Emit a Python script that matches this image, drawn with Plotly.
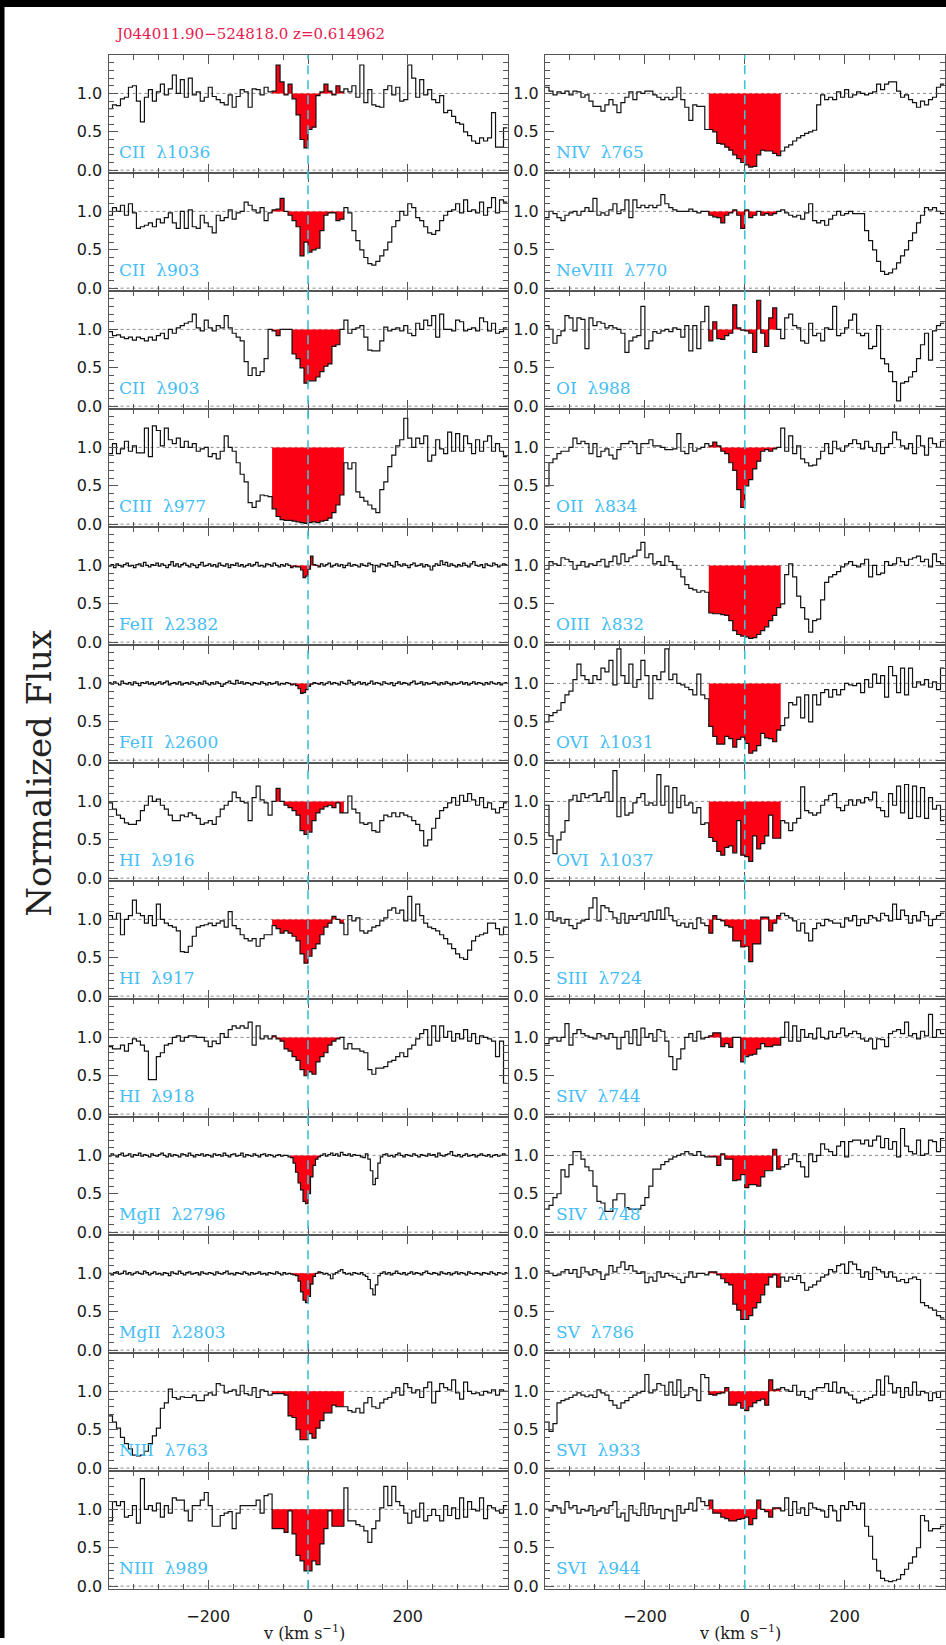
import numpy as np
import plotly.graph_objects as go

# ---------------- data (normalized flux) ----------------
# COS panels: 8 km/s bins starting at -400 km/s (100 bins)
CII_1036 = [0.80,0.85,0.84,0.93,0.95,1.08,1.10,0.90,0.63,0.95,
            1.05,0.90,1.02,1.12,0.98,1.06,1.24,1.00,1.18,0.95,
            1.20,0.98,1.02,0.90,0.95,1.08,0.96,0.92,0.88,0.85,
            0.98,0.82,0.96,1.05,1.02,0.82,1.06,1.05,0.98,1.08,
            1.02,1.03,1.37,1.15,0.98,1.12,0.93,0.72,0.40,0.29,
            0.53,0.56,0.97,1.02,1.12,1.03,0.98,1.10,1.02,1.06,
            1.02,1.10,0.95,1.37,0.88,1.05,0.85,0.83,0.82,1.05,
            1.10,0.98,1.08,0.90,0.92,1.37,1.20,0.95,1.18,0.98,
            1.05,0.92,0.88,0.97,0.75,0.78,0.70,0.62,0.60,0.50,
            0.45,0.38,0.35,0.42,0.38,0.42,0.75,0.30,0.30,0.55]
CII_903A = [0.95,1.05,1.00,1.08,0.95,1.10,0.98,0.78,0.80,0.82,
            0.85,0.80,0.90,0.85,0.92,0.98,0.85,0.78,1.00,0.78,
            1.02,0.80,0.78,0.95,0.85,0.80,0.72,0.95,0.88,0.92,
            1.02,0.90,0.98,1.00,1.12,1.08,1.02,0.98,1.05,0.88,
            0.98,1.02,1.03,1.17,1.00,0.95,0.88,0.80,0.42,0.60,
            0.47,0.50,0.52,0.75,0.95,0.98,0.98,0.88,0.90,1.05,
            0.98,0.75,0.62,0.50,0.40,0.32,0.30,0.35,0.42,0.50,
            0.60,0.80,0.88,1.00,0.95,1.10,1.05,0.92,0.88,0.80,
            0.72,0.70,0.75,0.88,0.95,1.00,1.02,1.10,0.98,1.15,
            1.00,1.02,0.98,1.12,0.95,1.05,1.18,0.98,1.15,1.12]
CII_903B = [0.97,0.92,0.93,0.90,0.88,0.90,0.86,0.90,0.88,0.85,
            0.90,0.86,0.92,0.95,0.88,1.00,0.95,1.02,1.05,1.08,
            1.10,1.20,1.02,0.98,1.12,1.02,0.98,1.05,1.02,1.18,
            1.02,0.95,0.90,0.85,0.58,0.40,0.50,0.40,0.45,0.62,
            1.00,0.98,0.92,1.00,1.00,1.00,0.68,0.62,0.50,0.30,
            0.33,0.33,0.38,0.45,0.52,0.55,0.78,0.80,1.00,1.12,
            0.95,1.00,1.02,1.05,0.90,0.73,0.72,0.72,0.85,1.03,
            0.98,1.00,1.02,0.98,1.05,0.95,0.92,1.08,1.00,1.12,
            1.05,1.18,0.90,1.20,1.00,1.00,0.98,1.12,1.10,0.98,
            1.00,1.02,0.98,1.15,1.10,0.98,1.08,0.95,0.97,1.02]
CIII_977 = [0.92,1.05,0.92,0.98,1.08,0.95,1.02,0.93,0.93,1.25,
            0.88,1.28,1.22,1.02,1.25,1.10,1.05,1.12,1.00,1.08,
            1.00,1.05,0.95,0.98,1.00,0.88,0.92,0.85,0.95,1.15,
            1.00,0.95,0.80,0.65,0.55,0.28,0.22,0.30,0.38,0.37,
            0.36,0.20,0.10,0.06,0.05,0.05,0.04,0.03,0.02,0.01,
            0.02,0.03,0.02,0.04,0.05,0.08,0.15,0.25,0.38,0.80,
            0.72,0.80,0.42,0.35,0.30,0.25,0.20,0.15,0.45,0.55,
            0.75,0.90,1.02,1.10,1.38,1.12,1.00,1.12,1.05,1.15,
            0.82,0.90,1.10,0.98,0.92,1.20,0.95,1.18,0.95,1.15,
            1.05,0.92,1.10,0.95,1.08,1.15,0.95,1.05,0.95,0.88]
HI_916 = [0.98,0.90,0.82,0.78,0.72,0.70,0.70,0.75,0.88,0.95,
          1.07,1.00,1.03,0.95,0.90,0.82,0.75,0.75,0.82,0.80,
          0.85,0.82,0.78,0.70,0.72,0.75,0.70,0.80,0.90,0.95,
          1.00,1.12,1.05,1.00,0.98,0.75,1.05,1.20,1.02,0.98,
          0.82,1.00,1.17,1.00,0.95,0.92,0.88,0.82,0.62,0.57,
          0.60,0.75,0.85,0.90,0.93,0.95,0.92,0.98,0.85,0.85,
          1.07,0.90,0.85,0.72,0.70,0.72,0.62,0.60,0.75,0.82,
          0.80,0.85,0.80,0.85,0.82,0.80,0.75,0.70,0.62,0.42,
          0.50,0.65,0.78,0.88,0.92,0.98,1.05,0.95,1.08,1.00,
          1.10,1.02,0.95,1.05,0.92,0.98,0.90,0.85,0.92,0.98]
HI_917 = [1.05,1.00,1.08,0.80,1.00,1.05,1.25,1.08,1.05,0.95,
          1.05,0.92,1.20,1.00,0.95,0.92,0.90,0.85,0.58,0.57,
          0.65,0.78,0.90,0.92,0.93,0.95,0.92,0.95,0.98,0.90,
          1.10,0.92,0.88,0.80,0.75,0.72,0.75,0.65,0.75,0.80,
          0.80,0.92,0.88,0.82,0.85,0.82,0.78,0.72,0.55,0.43,
          0.52,0.62,0.68,0.80,0.90,0.95,1.04,1.00,0.95,0.80,
          1.05,0.98,1.02,0.85,0.82,0.85,0.90,0.92,0.98,1.02,
          1.12,1.15,1.08,1.12,0.98,1.30,0.98,1.20,1.05,0.95,
          0.90,0.88,0.85,0.80,0.75,0.68,0.62,0.55,0.50,0.48,
          0.60,0.72,0.78,0.80,0.82,0.95,0.95,0.88,0.80,0.90]
HI_918 = [0.88,0.85,0.85,0.90,0.82,0.92,0.98,0.95,0.90,0.82,
          0.45,0.45,0.75,0.80,0.90,0.92,1.00,1.02,0.95,1.00,
          1.02,1.02,1.00,1.00,0.95,0.88,0.95,0.92,1.05,1.00,
          1.10,1.15,1.12,1.15,1.12,1.20,0.90,1.15,0.98,1.02,
          0.98,1.02,0.98,0.95,0.85,0.82,0.75,0.70,0.58,0.50,
          0.55,0.52,0.68,0.75,0.80,0.90,0.95,0.98,1.00,0.85,
          0.92,0.85,0.85,0.82,0.80,0.58,0.52,0.60,0.60,0.62,
          0.68,0.70,0.75,0.80,0.75,0.85,0.90,0.98,1.05,1.10,
          0.90,1.15,0.95,1.15,1.00,1.08,0.95,1.05,0.98,1.10,
          0.95,1.05,0.92,1.02,1.00,0.98,0.95,0.75,0.95,0.40]
NIII_763 = [0.68,0.60,0.52,0.40,0.32,0.25,0.17,0.16,0.17,0.22,
            0.32,0.42,0.52,0.78,0.85,1.03,0.92,0.90,0.93,0.92,
            0.92,0.95,0.88,0.88,0.95,0.98,0.95,1.10,1.08,0.98,
            1.00,1.02,0.95,1.08,0.97,0.95,1.05,0.92,1.02,1.00,
            0.95,0.97,0.97,0.97,0.95,0.68,0.66,0.50,0.37,0.37,
            0.45,0.39,0.52,0.62,0.72,0.72,0.82,0.80,0.80,0.80,
            0.75,0.73,0.78,0.72,0.85,0.92,0.80,0.78,0.85,0.90,
            0.92,0.98,1.05,0.95,1.10,1.05,0.98,1.02,0.92,1.05,
            1.12,0.85,1.00,1.10,1.05,1.02,1.15,0.98,0.90,1.12,
            1.00,0.97,0.98,0.95,1.00,0.98,1.02,0.95,1.02,1.00]
NIII_989 = [0.85,1.10,1.05,1.10,0.90,0.92,1.05,0.82,1.40,1.00,
            1.05,0.98,1.08,0.90,1.05,0.95,1.15,1.12,1.12,0.98,
            0.85,1.05,1.05,1.12,1.22,1.05,0.78,0.78,0.92,0.95,
            0.97,0.75,0.95,1.05,1.05,1.05,1.05,1.12,0.95,1.18,
            1.20,0.75,0.75,0.75,0.70,0.98,0.68,0.40,0.33,0.20,
            0.20,0.33,0.28,0.55,0.75,0.98,0.78,0.78,0.78,1.28,
            0.85,0.85,0.80,0.78,0.72,0.57,0.75,0.85,1.02,1.30,
            1.05,1.30,1.10,1.05,0.95,0.82,0.98,0.90,1.08,0.85,
            0.92,1.00,0.92,0.85,1.05,0.92,1.02,0.88,1.15,0.90,
            1.10,1.00,0.98,1.15,0.88,1.05,1.02,0.98,0.95,1.05]
NIV_765 = [1.08,1.03,0.98,1.02,1.00,1.03,0.98,1.03,1.02,0.95,
           0.98,0.90,0.83,0.83,0.77,0.85,0.92,0.85,0.75,0.88,
           0.95,1.02,0.92,1.02,1.00,1.03,1.03,0.98,0.95,0.92,
           0.95,0.92,0.95,1.08,0.92,0.82,0.65,0.85,0.83,0.83,
           0.53,0.53,0.50,0.35,0.34,0.30,0.26,0.20,0.15,0.10,
           0.07,0.04,0.05,0.20,0.26,0.25,0.25,0.22,0.19,0.25,
           0.30,0.33,0.38,0.42,0.45,0.48,0.50,0.52,0.85,0.98,
           0.92,0.95,0.92,1.02,0.95,1.05,0.95,0.98,1.02,1.00,
           0.98,1.00,1.02,1.12,1.05,1.12,1.15,1.15,1.03,0.95,
           0.98,0.92,0.88,0.82,0.90,0.85,0.92,0.95,1.08,1.12]
NEVIII_770 = [0.92,1.00,0.97,0.92,0.88,0.95,0.98,1.00,0.95,1.00,
              1.05,1.00,1.17,0.95,0.98,0.95,1.02,1.10,0.97,1.02,
              1.15,0.92,1.15,1.05,1.08,1.05,1.08,1.05,1.08,1.22,
              1.10,1.05,1.02,1.00,1.00,1.00,1.03,1.00,0.98,1.00,
              1.00,0.95,0.93,0.92,0.85,0.95,0.98,1.02,0.95,0.78,
              1.02,0.92,0.95,1.00,0.95,0.97,0.95,0.97,1.00,1.02,
              0.98,0.95,0.93,0.95,0.90,0.98,1.10,0.88,0.85,0.88,
              0.82,0.90,0.95,1.00,0.95,0.97,1.00,0.97,0.97,0.97,
              0.75,0.62,0.50,0.35,0.22,0.18,0.20,0.25,0.33,0.42,
              0.50,0.62,0.72,0.85,0.95,1.05,1.02,1.05,1.00,0.97]
OI_988 = [1.05,1.00,0.82,0.92,0.98,1.18,1.15,0.98,1.15,1.13,
          0.75,1.15,1.05,1.10,1.08,1.02,1.05,1.02,1.00,0.95,
          0.70,0.85,0.90,0.92,1.30,0.75,0.85,0.97,0.95,0.98,
          1.00,0.97,1.02,1.00,0.90,1.05,0.72,1.05,0.75,1.10,
          1.30,0.85,1.10,0.88,0.87,0.92,0.95,1.32,1.02,0.99,
          0.98,0.95,0.70,1.38,0.95,0.78,1.15,1.28,1.00,0.88,
          1.15,1.20,1.05,1.02,0.85,0.82,1.08,0.92,0.95,0.85,
          1.02,1.00,1.30,0.92,0.95,1.02,1.12,1.20,0.95,0.92,
          0.95,0.75,0.78,1.05,0.62,0.55,0.45,0.32,0.07,0.30,
          0.32,0.38,0.45,0.62,0.80,0.95,0.60,0.98,1.05,1.08]
OII_834 = [0.50,0.80,0.85,0.92,0.95,0.95,1.00,1.12,1.05,1.08,
           1.05,0.92,1.05,0.88,0.95,0.98,0.90,0.85,0.97,1.05,
           1.05,1.08,1.05,0.92,1.05,1.05,1.10,1.02,1.02,1.00,
           0.97,0.97,0.98,1.18,0.95,0.92,1.05,0.95,0.98,1.00,
           1.05,1.02,1.07,1.02,0.95,0.92,0.80,0.70,0.45,0.22,
           0.50,0.58,0.72,0.82,0.95,0.97,0.95,0.98,1.00,1.25,
           0.95,1.15,0.92,1.02,0.85,0.80,0.76,0.77,0.85,0.95,
           1.05,0.92,1.08,0.98,0.95,1.02,1.05,1.10,1.05,0.98,
           1.08,1.00,0.95,1.05,0.92,1.00,1.05,1.20,1.10,1.02,
           0.98,1.05,0.92,1.15,1.02,0.90,1.12,1.05,1.00,1.08]
OIII_832 = [0.95,1.05,1.02,1.00,1.10,1.08,1.05,0.95,1.00,1.05,
            0.98,1.02,1.00,1.05,1.08,0.98,1.05,1.12,1.02,1.15,
            1.05,1.10,1.12,1.20,1.30,1.10,1.15,1.02,1.05,1.00,
            1.12,1.05,1.00,0.95,0.85,0.75,0.70,0.68,0.65,0.67,
            0.65,0.38,0.37,0.37,0.36,0.35,0.28,0.15,0.10,0.08,
            0.07,0.05,0.06,0.10,0.15,0.20,0.28,0.35,0.45,0.50,
            0.88,1.02,0.85,0.60,0.45,0.30,0.13,0.28,0.30,0.55,
            0.78,0.85,0.88,0.92,0.98,1.02,1.05,1.00,0.98,1.02,
            1.08,0.85,1.00,0.88,0.90,1.05,1.00,1.02,1.10,1.05,
            1.00,1.08,1.10,1.12,1.05,1.08,0.98,1.15,1.05,1.02]
OVI_1031 = [0.50,0.58,0.62,0.65,0.75,0.85,0.90,1.05,1.25,1.10,
            1.05,1.00,1.10,1.05,1.20,1.15,1.30,0.98,1.45,1.10,
            1.00,1.25,0.95,1.05,1.30,1.10,0.80,1.10,1.05,1.15,
            1.45,1.05,1.12,1.00,0.98,0.95,0.92,0.85,1.12,0.85,
            0.80,0.44,0.31,0.21,0.21,0.31,0.28,0.17,0.27,0.30,
            0.22,0.09,0.12,0.19,0.35,0.29,0.28,0.24,0.39,0.45,
            0.55,0.75,0.72,0.82,0.55,0.85,0.50,0.85,0.72,0.88,
            0.92,0.82,0.92,0.85,0.92,1.00,0.98,0.97,1.00,0.88,
            1.05,0.95,1.12,1.00,1.10,0.82,1.22,1.10,0.88,1.20,
            0.85,1.20,0.95,1.02,0.98,1.05,0.95,1.02,0.92,1.20]
OVI_1037 = [0.95,0.55,0.32,0.50,0.60,0.75,1.02,1.08,1.00,1.10,
            1.05,1.08,1.10,1.00,1.05,1.12,1.00,1.40,0.80,1.05,
            0.82,0.85,0.98,1.05,1.10,0.95,0.98,0.95,1.35,0.95,
            1.20,0.85,1.18,0.92,1.08,0.95,0.98,0.85,0.92,0.70,
            0.72,0.53,0.48,0.35,0.30,0.40,0.42,0.33,0.75,0.30,
            0.28,0.22,0.55,0.38,0.45,0.55,0.82,0.52,0.52,0.75,
            0.72,0.62,0.72,0.78,1.19,0.88,0.85,0.82,0.85,0.95,
            1.02,1.08,1.10,0.92,0.88,0.95,1.02,0.95,1.02,0.98,
            1.05,1.02,1.12,0.92,0.88,0.80,1.10,0.95,1.20,0.85,
            1.22,0.78,1.20,0.80,1.18,0.78,1.05,0.90,0.95,0.75]
SIII_724 = [1.00,1.10,0.98,1.02,0.95,1.00,0.92,0.88,0.95,0.98,
            1.00,1.15,1.28,0.98,1.18,1.15,1.10,1.02,0.95,1.08,
            0.95,1.05,1.00,1.05,1.08,0.98,1.10,1.00,1.12,1.00,
            1.15,1.05,0.98,0.92,0.95,0.90,0.95,0.88,1.02,0.95,
            0.92,0.82,1.05,1.00,0.98,0.92,0.90,0.72,0.72,0.64,
            0.65,0.45,0.68,0.68,1.03,1.03,0.85,0.95,1.05,1.08,
            1.05,1.02,0.98,0.85,0.95,0.82,0.72,0.88,0.95,0.92,
            1.00,0.98,0.95,0.95,0.90,1.02,0.98,1.05,0.92,1.00,
            0.95,1.05,1.02,0.98,1.08,1.05,0.98,1.20,1.00,1.12,
            1.05,0.95,1.05,0.98,1.10,1.05,0.92,1.00,1.05,1.08]
SIV_744 = [0.92,0.98,1.00,0.95,1.00,1.18,0.90,1.05,1.10,1.05,
           1.02,1.00,0.98,1.05,1.02,0.98,1.05,1.00,0.85,1.00,
           1.08,0.92,1.10,0.90,1.12,1.00,1.05,0.95,1.10,1.08,
           0.95,0.75,0.58,0.72,0.85,1.00,1.05,0.95,1.08,0.98,
           1.00,1.02,1.06,1.06,0.88,0.92,0.87,1.00,1.00,0.68,
           0.75,0.77,0.78,0.85,0.92,0.88,0.88,0.90,0.90,1.00,
           1.20,0.95,1.15,0.95,1.10,1.00,1.05,0.98,1.12,1.00,
           0.98,1.08,1.00,1.05,1.12,1.02,1.05,1.08,1.05,0.98,
           0.95,0.98,0.85,0.98,0.97,0.88,1.05,1.08,1.10,1.05,
           1.20,1.02,1.05,0.98,1.08,1.02,1.30,1.00,1.10,1.05]
SIV_748 = [0.30,0.35,0.45,0.50,0.81,0.72,0.88,1.05,1.05,0.95,
           0.85,0.80,0.60,0.40,0.38,0.27,0.27,0.42,0.50,0.50,
           0.32,0.30,0.30,0.30,0.35,0.45,0.60,0.82,0.82,0.88,
           0.92,0.95,0.98,1.00,1.02,1.05,1.02,1.00,1.05,1.00,
           0.98,0.98,0.98,0.87,1.02,0.95,0.95,0.67,0.68,0.75,
           0.58,0.62,0.62,0.60,0.72,0.80,0.80,1.08,0.82,0.85,
           0.88,0.95,1.02,0.92,0.85,0.72,1.02,0.92,1.00,1.15,
           1.08,1.05,1.00,1.12,1.18,0.98,1.18,1.20,1.20,1.15,
           1.20,1.12,1.20,1.25,1.10,1.22,1.08,1.18,0.98,1.35,
           1.12,1.05,1.02,1.20,1.00,1.02,1.20,1.18,1.05,1.22]
SV_786 = [1.03,1.00,0.97,0.98,1.02,1.05,1.00,1.05,0.95,1.08,
          1.02,0.98,1.05,1.02,0.92,0.98,1.10,1.02,1.08,1.15,
          1.05,1.10,1.03,1.00,1.02,0.88,0.95,0.90,1.02,0.95,
          1.00,0.97,0.95,0.92,0.88,0.95,1.02,0.95,1.00,1.00,
          0.98,1.02,1.02,0.98,0.93,0.88,0.85,0.60,0.52,0.40,
          0.40,0.45,0.55,0.62,0.72,0.85,0.95,0.98,0.82,0.95,
          0.90,0.95,0.92,0.97,0.88,0.78,0.82,0.85,0.90,0.95,
          0.98,1.05,1.02,1.10,1.12,1.00,1.15,1.12,1.05,0.95,
          1.02,0.92,1.08,1.05,1.02,0.95,1.02,0.95,0.90,0.92,
          0.88,0.93,0.95,0.92,0.62,0.58,0.55,0.52,0.45,0.42]
SVI_933 = [0.60,0.48,0.58,0.85,0.88,0.90,0.92,0.95,0.98,0.95,
           0.93,0.95,0.92,1.02,0.98,0.95,0.88,0.82,0.78,0.85,
           0.88,0.92,0.95,0.98,1.00,1.22,0.98,1.02,1.10,1.08,
           0.95,1.12,0.95,1.15,0.92,0.95,1.05,1.02,0.88,1.22,
           1.18,0.96,0.95,0.97,0.98,1.05,0.82,0.82,0.85,0.78,
           0.75,0.80,0.85,0.88,0.90,0.82,1.15,1.02,1.03,1.05,
           1.02,1.00,1.08,0.95,1.00,0.92,0.90,1.02,1.05,1.05,
           1.10,1.00,1.12,0.98,1.05,0.98,0.95,0.90,0.85,0.88,
           0.90,0.92,0.95,1.15,0.95,1.20,1.10,0.98,1.05,0.92,
           1.05,0.95,1.12,0.95,1.00,0.98,0.88,0.98,0.92,1.00]
SVI_944 = [1.00,0.98,1.05,1.02,0.95,1.10,1.02,1.05,0.95,1.00,
           0.98,1.05,0.92,0.98,1.02,0.95,1.05,1.10,0.90,0.95,
           0.85,1.05,0.95,0.92,1.08,0.92,1.05,0.95,1.00,0.88,
           1.00,0.98,0.85,1.05,0.95,1.00,1.08,0.98,1.15,1.10,
           1.05,1.12,0.95,0.95,0.90,0.88,0.85,0.85,0.87,0.88,
           0.90,0.80,0.88,1.12,1.00,0.97,0.90,1.02,1.02,0.98,
           1.15,0.92,1.10,0.95,1.02,0.92,1.08,1.02,1.00,0.98,
           0.90,1.05,0.98,0.85,1.05,1.00,1.10,1.05,1.00,1.08,
           0.78,0.65,0.35,0.20,0.10,0.07,0.06,0.07,0.09,0.15,
           0.22,0.30,0.38,0.50,0.92,0.85,0.72,0.75,0.75,0.78]

# High-resolution panels: 5 km/s bins starting at -400 km/s (160 bins)
FEII_2382 = [0.99,1.01,0.97,1.02,1.00,0.98,1.01,1.03,0.99,1.00,0.97,1.01,1.02,0.99,1.04,1.00,0.98,1.01,1.00,1.03,
             0.99,1.02,1.00,0.97,1.01,1.05,0.99,1.02,0.98,1.01,1.03,1.00,0.98,1.02,1.00,0.97,1.01,1.04,0.99,1.00,
             1.02,0.99,1.01,0.98,1.03,1.00,0.99,1.02,0.97,1.01,1.00,1.03,0.99,1.01,0.98,1.00,1.02,0.99,1.01,1.04,
             0.99,1.00,0.98,1.02,1.01,0.99,1.03,1.00,0.98,1.01,0.99,1.02,1.00,0.97,0.99,0.98,0.98,0.94,0.84,0.86,
             0.95,1.12,1.01,1.00,0.98,1.02,0.99,1.01,1.03,0.98,1.00,1.02,0.99,1.01,0.97,1.00,1.03,0.99,1.01,1.00,
             0.98,1.02,1.00,0.99,1.03,1.01,0.92,1.00,0.98,1.02,1.01,0.99,1.03,1.00,0.98,1.05,1.01,0.99,1.02,1.00,
             0.97,1.01,1.03,0.99,1.00,1.02,0.98,1.01,0.99,0.94,0.99,1.02,1.00,1.06,1.01,1.04,0.99,1.02,1.00,0.98,
             1.01,0.99,1.03,1.00,0.98,1.02,1.05,1.00,0.99,1.01,0.97,1.02,1.00,0.99,1.03,1.01,0.98,1.00,1.02,1.01]
FEII_2600 = [1.01,0.99,1.02,1.00,0.98,1.03,1.00,0.99,1.01,0.98,1.02,1.00,0.97,1.01,1.00,1.02,0.99,1.01,0.98,1.00,
             1.02,0.99,1.01,1.03,0.98,1.00,1.01,0.99,1.02,0.98,1.00,1.01,0.99,1.02,1.00,0.98,1.01,0.99,1.03,1.00,
             0.98,1.01,0.99,1.02,1.00,0.96,0.99,1.01,1.03,1.00,0.99,1.04,1.00,1.02,0.99,1.01,1.00,0.98,1.01,1.00,
             0.99,1.02,1.00,0.98,1.01,0.99,1.00,1.02,0.98,1.00,0.99,1.01,1.00,0.98,0.99,0.97,0.93,0.87,0.88,0.92,
             0.96,0.99,1.01,1.00,0.99,1.01,0.98,1.00,1.02,0.99,1.01,1.00,0.98,1.02,1.00,0.99,1.04,1.01,0.98,1.00,
             1.02,0.99,1.01,0.98,1.00,1.03,0.99,1.01,1.00,0.98,1.02,1.00,0.99,1.01,0.97,1.00,1.02,0.99,1.01,1.00,
             0.98,1.01,1.03,0.99,1.00,1.02,0.98,1.01,0.99,1.00,1.02,1.00,0.98,1.01,0.99,1.02,1.00,0.98,1.01,0.99,
             1.00,1.02,0.99,1.01,0.98,1.00,1.02,0.99,1.01,1.00,0.98,1.01,0.99,1.02,1.00,0.99,1.01,0.98,1.00,1.01]
MGII_2796 = [0.99,1.02,1.00,0.98,1.01,1.03,0.99,1.00,1.02,0.98,1.01,1.00,1.03,0.99,1.01,1.00,0.98,1.02,1.00,0.99,
             1.01,1.03,1.00,0.98,1.02,0.99,1.01,1.00,0.98,1.02,1.01,0.99,1.03,1.00,0.98,1.01,1.00,1.02,0.99,1.01,
             1.00,0.98,1.02,1.00,1.01,0.99,1.03,1.00,0.98,1.01,1.02,0.99,1.00,1.03,0.98,1.01,1.00,0.99,1.02,1.00,
             0.98,1.01,1.02,0.99,1.01,1.00,0.98,1.00,1.01,0.99,1.00,1.00,0.98,0.97,0.90,0.78,0.64,0.55,0.40,0.37,
             0.50,0.72,0.87,0.95,0.98,1.00,1.02,0.99,1.01,1.03,1.00,1.02,0.99,1.04,1.01,1.00,1.02,0.99,1.01,1.00,
             1.00,0.98,0.97,1.02,0.95,0.80,0.62,0.70,0.90,0.98,1.01,1.02,0.99,1.00,0.98,1.01,1.03,1.00,0.98,1.01,
             1.00,0.99,1.02,1.00,0.98,1.01,1.00,0.99,1.02,1.00,1.01,0.98,1.03,1.00,0.99,1.01,1.02,1.05,1.00,0.99,
             1.01,0.98,1.00,1.02,0.99,1.00,1.01,0.98,1.00,1.02,1.00,0.99,1.01,0.98,1.00,1.01,0.99,1.00,1.02,1.00]
MGII_2803 = [1.00,0.98,1.01,1.02,0.99,1.00,1.03,0.99,1.01,0.98,1.00,1.02,1.00,0.99,1.03,1.01,0.98,1.00,1.02,0.99,
             1.00,0.98,1.01,1.00,0.97,1.02,1.00,0.99,1.03,1.00,0.98,1.01,1.02,0.99,1.00,1.01,0.98,1.02,1.00,0.99,
             1.01,1.00,0.98,1.02,1.00,0.99,1.01,1.03,0.99,1.00,0.98,1.01,1.00,0.99,1.02,1.00,0.98,1.01,0.99,1.00,
             1.02,0.99,1.00,0.98,1.01,1.00,0.99,1.02,1.00,0.98,1.01,0.99,1.00,0.99,0.98,0.97,0.90,0.76,0.65,0.62,
             0.70,0.86,0.96,1.00,1.02,1.01,0.99,1.00,0.98,0.93,0.99,1.01,1.03,1.05,1.01,0.99,1.00,0.98,1.01,1.00,
             0.99,1.01,0.98,0.96,0.92,0.80,0.72,0.85,0.97,1.00,1.02,0.99,1.01,0.98,1.00,1.03,1.00,0.99,1.01,0.98,
             1.00,1.02,0.99,1.01,1.00,0.98,1.01,1.03,1.00,0.99,1.01,1.00,0.98,1.02,1.00,0.99,1.01,0.98,1.00,1.02,
             0.99,1.01,1.00,0.98,1.02,1.00,0.99,1.01,1.00,0.98,1.01,1.00,0.99,1.02,1.00,0.98,1.01,1.00,0.99,1.01]

# panel lists: (ion, wavelength, flux, bin width km/s, red window km/s)
COS_WIN = (-72, 72)
HR_WIN = (-35, 25)
LEFT = [("CII", "1036", CII_1036, 8, COS_WIN), ("CII", "903", CII_903A, 8, COS_WIN),
        ("CII", "903", CII_903B, 8, COS_WIN), ("CIII", "977", CIII_977, 8, COS_WIN),
        ("FeII", "2382", FEII_2382, 5, HR_WIN), ("FeII", "2600", FEII_2600, 5, HR_WIN),
        ("HI", "916", HI_916, 8, COS_WIN), ("HI", "917", HI_917, 8, COS_WIN),
        ("HI", "918", HI_918, 8, COS_WIN), ("MgII", "2796", MGII_2796, 5, HR_WIN),
        ("MgII", "2803", MGII_2803, 5, HR_WIN), ("NIII", "763", NIII_763, 8, COS_WIN),
        ("NIII", "989", NIII_989, 8, COS_WIN)]
RIGHT = [("NIV", "765", NIV_765, 8, COS_WIN), ("NeVIII", "770", NEVIII_770, 8, COS_WIN),
         ("OI", "988", OI_988, 8, COS_WIN), ("OII", "834", OII_834, 8, COS_WIN),
         ("OIII", "832", OIII_832, 8, COS_WIN), ("OVI", "1031", OVI_1031, 8, COS_WIN),
         ("OVI", "1037", OVI_1037, 8, COS_WIN), ("SIII", "724", SIII_724, 8, COS_WIN),
         ("SIV", "744", SIV_744, 8, COS_WIN), ("SIV", "748", SIV_748, 8, COS_WIN),
         ("SV", "786", SV_786, 8, COS_WIN), ("SVI", "933", SVI_933, 8, COS_WIN),
         ("SVI", "944", SVI_944, 8, COS_WIN)]

TITLE = "J044011.90\u2212524818.0 z=0.614962"
V0 = -400

# ---------------- layout geometry (pixels) ----------------
W, H = 946, 1645
TOP, PH = 55.5, 118.5
NROW = 13
XCOL = [(108.5, 507.5), (545.0, 944.5)]
YR = [-0.04, 1.497]
FRAME = "#555555"
RED = "#fb0012"
CYAN = "#3cc3d5"
LBL = "#45bdf5"
TICKFONT = dict(family="DejaVu Sans", size=16, color="#1a1a1a")

XMINOR = [-350, -300, -250, -150, -100, -50, 50, 100, 150, 250, 300, 350]
YMINOR = [0.1, 0.2, 0.3, 0.4, 0.6, 0.7, 0.8, 0.9, 1.1, 1.2, 1.3, 1.4]

fig = go.Figure()
layout = {}
shapes = []
annotations = []

for c, col in enumerate([LEFT, RIGHT]):
    for r, (ion, wl, flux, dv, win) in enumerate(col):
        n = c * NROW + r + 1
        xa = "x" if n == 1 else f"x{n}"
        ya = "y" if n == 1 else f"y{n}"
        flux = np.asarray(flux, dtype=float)
        edges = V0 + dv * np.arange(len(flux) + 1)
        centers = 0.5 * (edges[:-1] + edges[1:])
        idx = np.where((centers > win[0]) & (centers < win[1]))[0]

        # red absorption fill between continuum (1) and flux
        px = [edges[idx[0]]]
        py = [1.0]
        for i in idx:
            px += [edges[i], edges[i + 1]]
            py += [flux[i], flux[i]]
        px += [edges[idx[-1] + 1], edges[idx[0]]]
        py += [1.0, 1.0]
        fig.add_trace(go.Scatter(x=px, y=py, mode="lines", fill="toself",
                                 fillcolor=RED, line=dict(width=0, color=RED),
                                 xaxis=xa, yaxis=ya, hoverinfo="skip", showlegend=False))
        # histogram-style spectrum
        sx = np.append(edges[:-1], edges[-1])
        sy = np.append(flux, flux[-1])
        fig.add_trace(go.Scatter(x=sx, y=sy, mode="lines",
                                 line=dict(color="#111111", width=1.2, shape="hv"),
                                 xaxis=xa, yaxis=ya, hoverinfo="skip", showlegend=False))

        ytop = TOP + r * PH
        ybot = ytop + PH
        xdom = [XCOL[c][0] / W, XCOL[c][1] / W]
        ydom = [1 - ybot / H, 1 - ytop / H]
        bottom = (r == NROW - 1)
        layout["xaxis" if n == 1 else f"xaxis{n}"] = dict(
            domain=xdom, range=[-400, 400], anchor=ya, showline=True, linecolor=FRAME,
            linewidth=1, mirror="ticks", ticks="inside", ticklen=9, tickwidth=1,
            tickcolor=FRAME, tickvals=[-200, 0, 200],
            ticktext=["\u2212200", "0", "200"], showticklabels=bottom,
            ticklabelstandoff=13, tickfont=TICKFONT,
            minor=dict(tickmode="array", tickvals=XMINOR, ticks="inside", ticklen=5,
                       tickcolor=FRAME, tickwidth=1, showgrid=False),
            showgrid=False, zeroline=False, fixedrange=True)
        layout["yaxis" if n == 1 else f"yaxis{n}"] = dict(
            domain=ydom, range=YR, anchor=xa, showline=True, linecolor=FRAME,
            linewidth=1, mirror="ticks", ticks="inside", ticklen=9, tickwidth=1,
            tickcolor=FRAME, tickvals=[0, 0.5, 1.0], ticktext=["0.0", "0.5", "1.0"],
            tickfont=TICKFONT, ticklabelstandoff=2,
            minor=dict(tickmode="array", tickvals=YMINOR, ticks="inside", ticklen=5,
                       tickcolor=FRAME, tickwidth=1, showgrid=False),
            showgrid=False, zeroline=False, fixedrange=True)

        for yv in (0.0, 1.0):
            shapes.append(dict(type="line", xref=f"{xa} domain", x0=0, x1=1,
                               yref=ya, y0=yv, y1=yv, layer="below",
                               line=dict(color="#8a8a8a", width=1, dash="dot")))
        annotations.append(dict(text=f"{ion}\u00a0\u00a0\u03bb{wl}", xref=f"{xa} domain",
                                x=0.022, xanchor="left", yref=ya, y=0.085,
                                yanchor="bottom", showarrow=False,
                                font=dict(family="DejaVu Serif", size=17, color=LBL)))

# cyan dashed line at v = 0 through each column
for xa in ("x", f"x{NROW + 1}"):
    shapes.append(dict(type="line", xref=xa, x0=0, x1=0, yref="paper",
                       y0=1 - (TOP + NROW * PH) / H, y1=1 - TOP / H, layer="above",
                       line=dict(color=CYAN, width=1.6, dash="9px,6px")))

# black strips at top and left edge of the picture
shapes.append(dict(type="rect", xref="paper", yref="paper", x0=0, x1=1,
                   y0=1 - 7 / H, y1=1, fillcolor="black", line=dict(width=0), layer="above"))
shapes.append(dict(type="rect", xref="paper", yref="paper", x0=0, x1=4.5 / W,
                   y0=0, y1=1, fillcolor="black", line=dict(width=0), layer="above"))

annotations.append(dict(text=TITLE, xref="paper", x=113 / W, xanchor="left",
                        yref="paper", y=1 - 45 / H, yanchor="bottom", showarrow=False,
                        font=dict(family="DejaVu Serif", size=15, color="#e8194f")))
annotations.append(dict(text="Normalized Flux", xref="paper", x=39 / W, xanchor="center",
                        yref="paper", y=1 - 777 / H, yanchor="middle", textangle=-90,
                        showarrow=False,
                        font=dict(family="DejaVu Serif", size=34, color="#222222")))
for xc in (304, 740):
    annotations.append(dict(text="v (km s<sup>\u22121</sup>)", xref="paper", x=xc / W,
                            xanchor="center", yref="paper", y=1 - 1639.5 / H,
                            yanchor="middle", showarrow=False,
                            font=dict(family="DejaVu Serif", size=16, color="#1a1a1a")))

fig.update_layout(width=W, height=H, margin=dict(l=0, r=0, t=0, b=0, pad=0),
                  paper_bgcolor="white", plot_bgcolor="rgba(0,0,0,0)",
                  showlegend=False, shapes=shapes, annotations=annotations, **layout)

fig.write_html("out.html", include_plotlyjs=True, config={"displayModeBar": False})
